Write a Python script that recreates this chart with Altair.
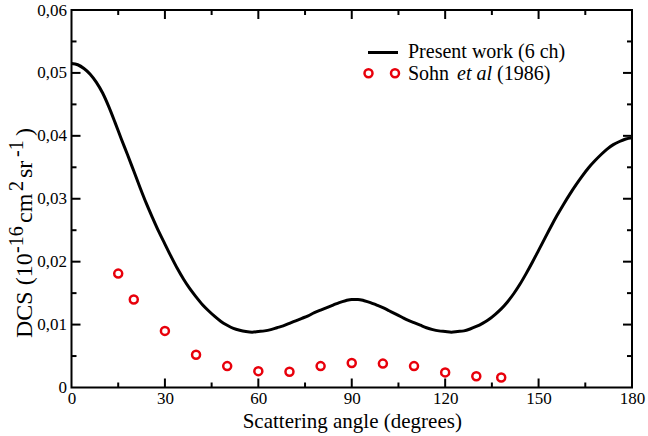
import altair as alt
import pandas as pd

# ---- data ----
angle = [0, 2, 4, 6, 8, 10, 12, 14, 16, 18, 20, 22, 24, 26, 28, 30, 32, 34, 36, 38,
         40, 42, 44, 46, 48, 50, 52, 54, 56, 58, 60, 62, 64, 66, 68, 70, 72, 74, 76, 78,
         80, 82, 84, 86, 88, 90, 92, 94, 96, 98, 100, 102, 104, 106, 108, 110, 112, 114,
         116, 118, 120, 122, 124, 126, 128, 130, 132, 134, 136, 138, 140, 142, 144, 146,
         148, 150, 152, 154, 156, 158, 160, 162, 164, 166, 168, 170, 172, 174, 176, 178, 180]
dcs = [0.0515, 0.0513, 0.0507, 0.0498, 0.0485, 0.0468, 0.0446, 0.0421, 0.0395, 0.0370,
       0.0344, 0.0318, 0.0293, 0.0270, 0.0248, 0.0228, 0.0208, 0.0189, 0.0172, 0.0157,
       0.0144, 0.0132, 0.0122, 0.0113, 0.0105, 0.0099, 0.0094, 0.0091, 0.0089, 0.0088,
       0.0089, 0.0090, 0.0092, 0.0095, 0.0098, 0.0102, 0.0106, 0.0110, 0.0114, 0.0119,
       0.0123, 0.0127, 0.0131, 0.0135, 0.0138, 0.0140, 0.0140, 0.0138, 0.0135, 0.0131,
       0.0127, 0.0122, 0.0117, 0.0112, 0.0107, 0.0103, 0.0099, 0.0095, 0.0092, 0.0090,
       0.0089, 0.0088, 0.0089, 0.0090, 0.0093, 0.0097, 0.0102, 0.0108, 0.0116, 0.0125,
       0.0136, 0.0149, 0.0164, 0.0181, 0.0199, 0.0218, 0.0237, 0.0256, 0.0274, 0.0291,
       0.0307, 0.0322, 0.0336, 0.0349, 0.0360, 0.0370, 0.0379, 0.0386, 0.0391, 0.0395, 0.0397]

sohn_angle = [15, 20, 30, 40, 50, 60, 70, 80, 90, 100, 110, 120, 130, 138]
sohn_dcs = [0.0181, 0.0140, 0.0090, 0.0052, 0.0034, 0.0026, 0.0025, 0.0034, 0.0039,
            0.0038, 0.0034, 0.0024, 0.0018, 0.0016]

x_major = [30, 60, 90, 120, 150]
x_minor = [15, 45, 75, 105, 135, 165]
y_major = [0.01, 0.02, 0.03, 0.04, 0.05]
y_minor = [0.005, 0.015, 0.025, 0.035, 0.045, 0.055]

W, H = 560.5, 377.5
FONT = "Liberation Serif"
RED = "#e8000b"

curve_df = pd.DataFrame({"angle": angle, "dcs": dcs})
sohn_df = pd.DataFrame({"angle": sohn_angle, "dcs": sohn_dcs})

xs = alt.Scale(domain=[0, 180], nice=False, zero=False)
ys = alt.Scale(domain=[0, 0.06], nice=False, zero=False)

x_axis = alt.Axis(values=[0, 30, 60, 90, 120, 150, 180], title="Scattering angle (degrees)",
                  grid=False, domain=False, ticks=False, labelFont=FONT, labelFontSize=17,
                  labelColor="black", labelPadding=3, titleFont=FONT, titleFontSize=21,
                  titleFontWeight="normal", titleColor="black", titlePadding=4,
                  labelFlush=False)
y_axis = alt.Axis(values=[0, 0.01, 0.02, 0.03, 0.04, 0.05, 0.06], title=None,
                  grid=False, domain=False, ticks=False, labelFont=FONT, labelFontSize=17,
                  labelColor="black", labelPadding=5, labelFlush=False,
                  labelExpr="datum.value == 0 ? '0' : replace(format(datum.value, '.2f'), '.', ',')")

line = alt.Chart(curve_df).mark_line(color="black", strokeWidth=3, interpolate="monotone").encode(
    x=alt.X("angle:Q", scale=xs, axis=x_axis),
    y=alt.Y("dcs:Q", scale=ys, axis=y_axis),
)

points = alt.Chart(sohn_df).mark_point(shape="circle", filled=False, color=RED,
                                       size=64, strokeWidth=2.5, opacity=1).encode(
    x=alt.X("angle:Q", scale=xs),
    y=alt.Y("dcs:Q", scale=ys),
)

def xticks(vals, length, top):
    df = pd.DataFrame({"v": vals})
    if top:
        enc = dict(y=alt.value(0), y2=alt.value(length))
    else:
        enc = dict(y=alt.value(H), y2=alt.value(H - length))
    return alt.Chart(df).mark_rule(color="black", strokeWidth=2).encode(
        x=alt.X("v:Q", scale=xs), **enc)

def yticks(vals, length, right):
    df = pd.DataFrame({"v": vals})
    if right:
        enc = dict(x=alt.value(W), x2=alt.value(W - length))
    else:
        enc = dict(x=alt.value(0), x2=alt.value(length))
    return alt.Chart(df).mark_rule(color="black", strokeWidth=2).encode(
        y=alt.Y("v:Q", scale=ys), **enc)

ticks = [
    xticks(x_major, 9, False), xticks(x_minor, 5, False),
    xticks(x_major, 9, True), xticks(x_minor, 5, True),
    yticks(y_major, 9, False), yticks(y_minor, 5, False),
    yticks(y_major, 9, True), yticks(y_minor, 5, True),
]

one = pd.DataFrame({"k": [0]})

def txt(s, x, y, size, angle=0, style="normal", align="left"):
    kw = dict(font=FONT, fontSize=size, color="black", align=align, baseline="middle",
              fontStyle=style)
    if angle:
        kw["angle"] = angle
    return alt.Chart(one).mark_text(**kw).encode(
        x=alt.value(x), y=alt.value(y), text=alt.value(s))

# y-axis title built from pieces (with superscripts), rotated
ox, oy = -71.5, -10
tx = 25 + ox
main_sz, sup_sz = 24, 20
title_pieces = [  # text, is superscript, start position (page y, reading upward)
    ("DCS (10", False, 338),
    ("-16", True, 253),
    ("cm", False, 223),
    ("2", True, 191),
    ("sr", False, 178),
    ("-1", True, 157),
    (")", False, 136),
]
title_parts = [txt(s, tx - (8 if sup else 0), start + oy, sup_sz if sup else main_sz, angle=270)
               for s, sup, start in title_pieces]

# legend
leg_line = alt.Chart(one).mark_rule(color="black", strokeWidth=3).encode(
    x=alt.value(368 + ox), x2=alt.value(398 + ox), y=alt.value(52.5 + oy))
leg_pts = [alt.Chart(one).mark_point(shape="circle", filled=False, color=RED,
                                     size=64, strokeWidth=2.5, opacity=1).encode(
    x=alt.value(px + ox), y=alt.value(73.3 + oy)) for px in (368.5, 395)]
legend = [leg_line] + leg_pts + [
    txt("Present work (6 ch)", 408 + ox, 51.5 + oy, 20),
    txt("Sohn", 408 + ox, 73.5 + oy, 20),
    txt("et al", 457 + ox, 73.5 + oy, 20, style="italic"),
    txt("(1986)", 497 + ox, 73.5 + oy, 20),
]

chart = alt.layer(line, points, *ticks, *title_parts, *legend).properties(
    width=W, height=H,
    padding={"left": 71.5, "top": 10, "right": 16, "bottom": 48.5},
    autosize=alt.AutoSizeParams(type="none"),
    background="white",
).configure_view(stroke="black", strokeWidth=2)

chart.save("out.html", embed_options={"renderer": "svg", "actions": False})
